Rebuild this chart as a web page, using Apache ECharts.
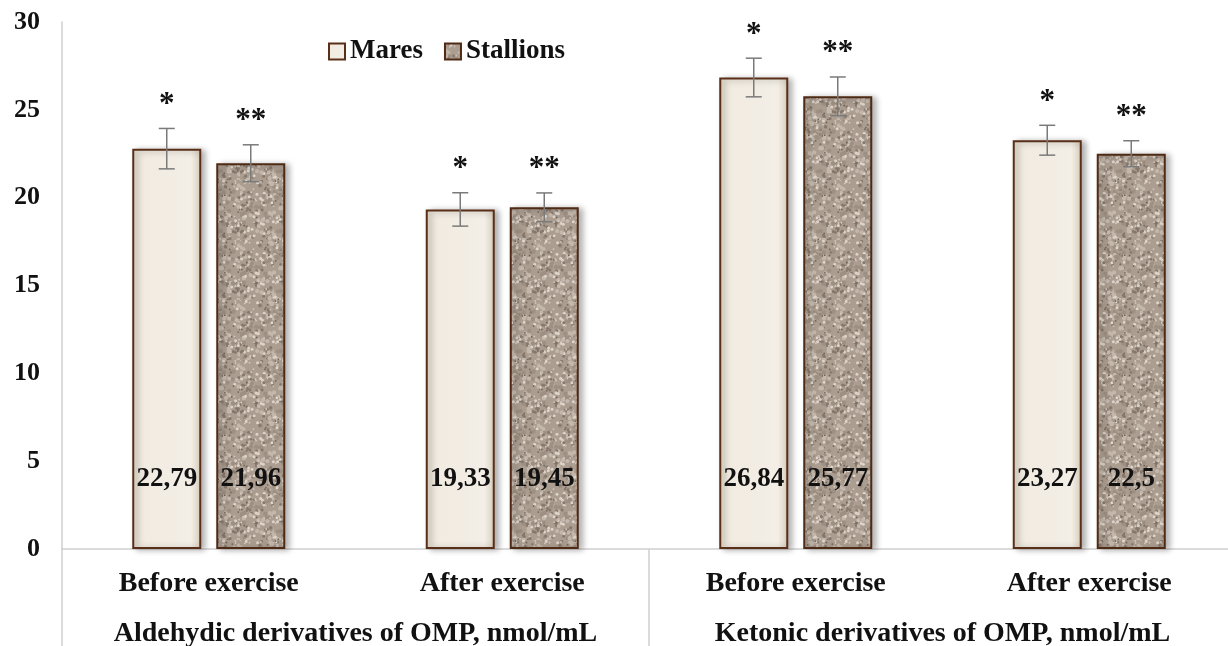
<!DOCTYPE html>
<html>
<head>
<meta charset="utf-8">
<script src="https://cdn.jsdelivr.net/npm/echarts@6/dist/echarts.min.js"></script>
<style>
  html, body { margin: 0; padding: 0; background: #fff; }
  #chart { width: 1228px; height: 646px; }
</style>
</head>
<body>
<div id="chart"></div>
<script>
const categories = ['Before exercise', 'After exercise', 'Before exercise', 'After exercise']
const groups = ['Aldehydic derivatives of OMP, nmol/mL', 'Ketonic derivatives of OMP, nmol/mL']
const mares = [22.79, 19.33, 26.84, 23.27]
const stallions = [21.96, 19.45, 25.77, 22.5]
const maresErr = [1.15, 0.95, 1.1, 0.85]
const stallionsErr = [1.05, 0.82, 1.1, 0.74]
const yTicks = [0, 5, 10, 15, 20, 25, 30]

const FONT = '"Liberation Serif", "Times New Roman", serif'
const BAR_W = 69
const BAR_GAP = 15

// speckled texture for the stallions bars (deterministic, just a look)
function makeTexture() {
  const c = document.createElement('canvas')
  c.width = 60
  c.height = 60
  const ctx = c.getContext('2d')
  ctx.fillStyle = '#ab9d90'
  ctx.fillRect(0, 0, 60, 60)
  const shades = ['#d3c9bf', '#86786c', '#c4b8ac', '#74665a', '#ddd4ca', '#9d8f82']
  for (let i = 0; i < 300; i++) {
    const x = (Math.sin(i * 12.9898) * 43758.5453) % 1
    const y = (Math.sin(i * 78.233) * 12345.678) % 1
    ctx.fillStyle = shades[i % shades.length]
    ctx.beginPath()
    ctx.arc(Math.abs(x) * 60, Math.abs(y) * 60, 0.9 + (i % 3) * 0.6, 0, Math.PI * 2)
    ctx.fill()
  }
  return c
}

const maresFill = {
  type: 'linear', x: 0, y: 0, x2: 1, y2: 0,
  colorStops: [
    { offset: 0, color: '#ddd3c3' },
    { offset: 0.12, color: '#f1ebe1' },
    { offset: 0.85, color: '#f3eee6' },
    { offset: 1, color: '#d8cdbc' }
  ]
}

function errorSeries(name, values, errs, side) {
  const data = values.map((v, i) => [i, v - errs[i], v + errs[i]])
  return {
    type: 'custom',
    name: name + ' err',
    z: 5,
    silent: true,
    data: data,
    renderItem(params, api) {
      const i = api.value(0)
      const dx = side * (BAR_W + BAR_GAP) / 2
      const lo = api.coord([i, api.value(1)])
      const hi = api.coord([i, api.value(2)])
      const x = lo[0] + dx
      const cap = 8
      const line = { stroke: '#7a7a7a', lineWidth: 1.5 }
      return {
        type: 'group',
        children: [
          { type: 'line', shape: { x1: x, y1: lo[1], x2: x, y2: hi[1] }, style: line },
          { type: 'line', shape: { x1: x - cap, y1: lo[1], x2: x + cap, y2: lo[1] }, style: line },
          { type: 'line', shape: { x1: x - cap, y1: hi[1], x2: x + cap, y2: hi[1] }, style: line },
          {
            type: 'text',
            style: {
              x: x, y: hi[1] - 8,
              text: side < 0 ? '*' : '**',
              font: 'bold 31px ' + FONT,
              fill: '#111',
              align: 'center',
              verticalAlign: 'bottom'
            }
          }
        ]
      }
    }
  }
}

const valueLabel = {
  show: true,
  position: 'insideBottom',
  distance: 56,
  color: '#111',
  fontFamily: FONT,
  fontWeight: 'bold',
  fontSize: 27,
  formatter: p => String(p.value).replace('.', ',')
}

const axisText = {
  color: '#111',
  fontFamily: FONT,
  fontWeight: 'bold',
  fontSize: 28,
  interval: 0
}

const chart = echarts.init(document.getElementById('chart'))
chart.setOption({
  animation: false,
  textStyle: { fontFamily: FONT },
  legend: {
    left: 323,
    top: 33,
    icon: 'rect',
    itemWidth: 16,
    itemHeight: 16,
    itemGap: 21,
    data: ['Mares', 'Stallions'],
    textStyle: { fontFamily: FONT, fontWeight: 'bold', fontSize: 27, color: '#111' }
  },
  grid: { left: 62, width: 1174, top: 22, bottom: 97, containLabel: false, outerBoundsMode: 'none' },
  xAxis: [
    {
      type: 'category',
      data: categories,
      axisLine: { lineStyle: { color: '#cfcfcf', width: 1.5 } },
      axisTick: { show: false },
      axisLabel: Object.assign({ margin: 21 }, axisText)
    },
    {
      type: 'category',
      data: groups,
      position: 'bottom',
      axisLine: { show: false },
      axisTick: { show: true, interval: 0, length: 97, lineStyle: { color: '#cfcfcf', width: 1.5 } },
      axisLabel: Object.assign({ margin: 71 }, axisText)
    }
  ],
  yAxis: {
    type: 'value',
    min: yTicks[0],
    max: yTicks[yTicks.length - 1],
    interval: 5,
    splitLine: { show: false },
    axisLine: { show: true, lineStyle: { color: '#cfcfcf', width: 1.5 } },
    axisTick: { show: false },
    axisLabel: {
      margin: 22,
      color: '#111',
      fontFamily: FONT,
      fontWeight: 'bold',
      fontSize: 26
    }
  },
  series: [
    {
      name: 'Mares',
      type: 'bar',
      data: mares,
      barWidth: BAR_W,
      barGap: (BAR_GAP / BAR_W * 100) + '%',
      itemStyle: {
        color: maresFill,
        borderColor: '#5a2f17',
        borderWidth: 2,
        shadowColor: 'rgba(0,0,0,0.3)',
        shadowBlur: 6,
        shadowOffsetX: 4,
        shadowOffsetY: 1
      },
      label: valueLabel
    },
    {
      name: 'Stallions',
      type: 'bar',
      data: stallions,
      barWidth: BAR_W,
      itemStyle: {
        color: { image: makeTexture(), repeat: 'repeat' },
        borderColor: '#4f2a15',
        borderWidth: 2,
        shadowColor: 'rgba(0,0,0,0.3)',
        shadowBlur: 6,
        shadowOffsetX: 4,
        shadowOffsetY: 1
      },
      label: valueLabel
    },
    errorSeries('Mares', mares, maresErr, -1),
    errorSeries('Stallions', stallions, stallionsErr, 1)
  ]
})
</script>
</body>
</html>
